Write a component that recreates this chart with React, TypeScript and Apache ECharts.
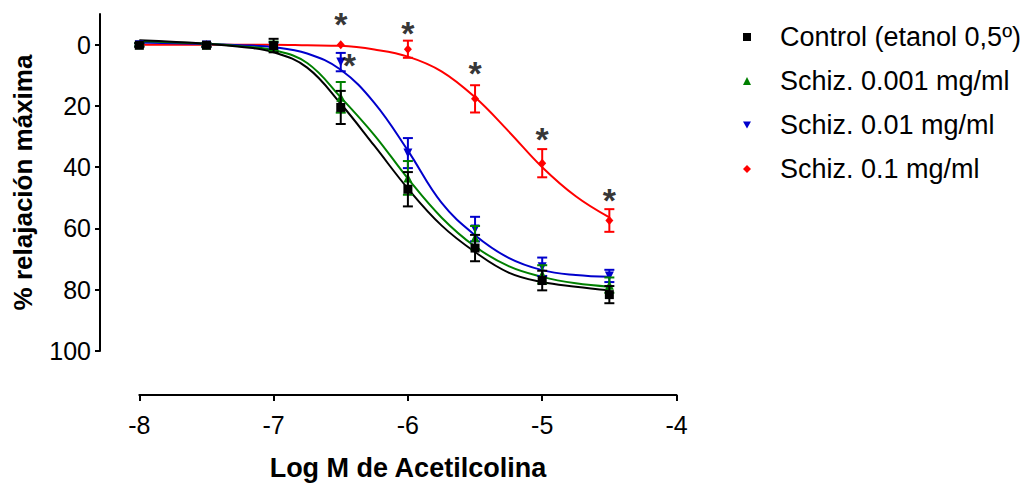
import React, { useEffect, useRef } from "react";
import * as echarts from "echarts";

// Log M acetylcholine doses
const doses = [-8, -7.5, -7, -6.5, -6, -5.5, -5, -4.5];

// Means (% relajación máxima) and SEM
const controlMean = [0.2, 0.2, 0.3, 20.5, 47.2, 66.4, 77.0, 81.6];
const controlSem = [0.6, 0.6, 2.2, 5.4, 5.6, 4.3, 3.2, 2.8];
const schiz001Mean = [0.0, 0.1, 0.5, 17.2, 43.5, 63.0, 75.0, 78.5];
const schiz001Sem = [0.5, 0.5, 1.5, 5.0, 5.5, 3.8, 3.0, 2.5];
const schiz01Mean = [0.0, 0.1, 0.3, 5.7, 35.4, 60.2, 72.5, 75.5];
const schiz01Sem = [0.5, 0.5, 1.0, 3.0, 4.9, 4.0, 3.0, 2.0];
const schiz1Mean = [0.0, 0.0, 0.0, 0.0, 1.5, 17.7, 38.7, 57.4];
const schiz1Sem = [0.0, 0.0, 0.0, 0.0, 2.8, 4.45, 4.6, 3.7];

// Fitted curves
const curveX = [-8, -7.5, -7.25, -7, -6.75, -6.5, -6.25, -6, -5.75, -5.5, -5.25, -5, -4.75, -4.5];
const controlCurve = [-1.4, -0.3, 0.7, 2.5, 7.5, 19.3, 33, 47, 59, 67.7, 74.4, 77.5, 79, 80.2];
const schiz001Curve = [-1.2, -0.3, 0.5, 1.8, 6.0, 17.2, 29.5, 43.7, 56.4, 65.9, 72.3, 75.8, 77.9, 79.0];
const schiz01Curve = [-0.7, -0.2, 0.2, 0.8, 2.9, 8.2, 19, 34.6, 51.6, 62.2, 69.6, 73.6, 75.2, 75.8];
const schiz1Curve = [0, 0, 0, 0, 0.2, 0.4, 1.6, 3.9, 8.7, 17.2, 28.3, 40, 49.5, 56.4];

// Significance marks (asterisks) positions
const asteriskX = [-6.5, -6.435, -6, -5.5, -5, -4.5];
const asteriskY = [-7.7, 5.8, -4.7, 8.2, 29.9, 49.7];

const yTicks = [0, 20, 40, 60, 80, 100];

const seriesNames = [
  "Control (etanol 0,5º)",
  "Schiz. 0.001 mg/ml",
  "Schiz. 0.01 mg/ml",
  "Schiz. 0.1 mg/ml",
];

const FONT = "'Liberation Sans', Arial, sans-serif";
const DOWN_TRIANGLE = "path://M0,0L10,0L5,9Z";

export default function App() {
  const ref = useRef<HTMLDivElement>(null);
  useEffect(() => {
    if (!ref.current) return;
    document.body.style.margin = "0";
    const chart = echarts.init(ref.current, undefined, { renderer: "svg" });

    const groups = [
      { name: seriesNames[3], mean: schiz1Mean, sem: schiz1Sem, curve: schiz1Curve, color: "#ff0000", symbol: "diamond", size: [8, 9] },
      { name: seriesNames[2], mean: schiz01Mean, sem: schiz01Sem, curve: schiz01Curve, color: "#0000cc", symbol: DOWN_TRIANGLE, size: [9, 9] },
      { name: seriesNames[1], mean: schiz001Mean, sem: schiz001Sem, curve: schiz001Curve, color: "#008000", symbol: "triangle", size: [9, 9] },
      { name: seriesNames[0], mean: controlMean, sem: controlSem, curve: controlCurve, color: "#000000", symbol: "rect", size: [9, 9] },
    ];

    const series: any[] = [];
    groups.forEach((g) => {
      series.push({
        name: g.name + " fit",
        type: "line",
        data: curveX.map((x, i) => [x, g.curve[i]]),
        smooth: 0.4,
        showSymbol: false,
        symbol: "none",
        lineStyle: { color: g.color, width: 2 },
        silent: true,
        z: 2,
      });
    });
    groups.forEach((g, gi) => {
      const color = g.color;
      series.push({
        name: g.name + " err",
        type: "custom",
        data: doses.map((x, i) => [x, g.mean[i], g.sem[i]]),
        encode: { x: 0, y: 1 },
        z: 3 + gi * 2,
        renderItem: (params: any, api: any) => {
          const x = api.value(0);
          const m = api.value(1);
          const s = api.value(2);
          if (!s) return { type: "group", children: [] };
          const top = api.coord([x, m - s]);
          const bot = api.coord([x, m + s]);
          const hw = 5;
          const st = { stroke: color, lineWidth: 2 };
          return {
            type: "group",
            children: [
              { type: "line", shape: { x1: top[0], y1: top[1], x2: bot[0], y2: bot[1] }, style: st },
              { type: "line", shape: { x1: top[0] - hw, y1: top[1], x2: top[0] + hw, y2: top[1] }, style: st },
              { type: "line", shape: { x1: bot[0] - hw, y1: bot[1], x2: bot[0] + hw, y2: bot[1] }, style: st },
            ],
          };
        },
      });
      series.push({
        name: g.name,
        type: "scatter",
        data: doses.map((x, i) => [x, g.mean[i]]),
        symbol: g.symbol,
        symbolSize: g.size,
        itemStyle: { color, opacity: 1 },
        z: 4 + gi * 2,
      });
    });
    series.push({
      name: "asterisks",
      type: "scatter",
      data: asteriskX.map((x, i) => [x, asteriskY[i]]),
      symbolSize: 0,
      silent: true,
      z: 20,
      itemStyle: { color: "#000" },
      label: {
        show: true,
        formatter: "*",
        position: "inside",
        color: "#000",
        textBorderWidth: 0,
        textBorderColor: "transparent",
        fontSize: 34,
        fontWeight: "bold",
        fontFamily: FONT,
        offset: [0, 3],
      },
    });

    chart.setOption({
      animation: false,
      backgroundColor: "#ffffff",
      textStyle: { fontFamily: FONT },
      grid: { left: 139.3, top: 14, width: 537.2, height: 345 },
      legend: {
        orient: "vertical",
        left: 738,
        top: 18,
        data: [seriesNames[0], seriesNames[1], seriesNames[2], seriesNames[3]],
        itemWidth: 8,
        itemHeight: 8,
        itemGap: 16,
        textStyle: {
          fontSize: 27,
          lineHeight: 28,
          color: "#000",
          fontFamily: FONT,
          padding: [0, 0, 0, 24],
        },
      },
      xAxis: {
        type: "value",
        min: -8,
        max: -4,
        interval: 1,
        position: "bottom",
        offset: 44,
        name: "Log M de Acetilcolina",
        nameLocation: "middle",
        nameGap: 59,
        nameTextStyle: { fontSize: 27, fontWeight: "bold", color: "#000", fontFamily: FONT },
        axisLine: { show: true, onZero: false, lineStyle: { color: "#000", width: 2 } },
        axisTick: { show: true, inside: false, length: 6, lineStyle: { color: "#000", width: 2 } },
        axisLabel: { fontSize: 25, color: "#000", margin: 17, fontFamily: FONT },
        splitLine: { show: false },
      },
      yAxis: {
        type: "value",
        inverse: true,
        min: -10,
        max: 100,
        interval: 10,
        position: "left",
        offset: 39.3,
        name: "% relajación máxima",
        nameLocation: "middle",
        nameGap: 64,
        nameTextStyle: { fontSize: 26, fontWeight: "bold", color: "#000", fontFamily: FONT },
        axisLine: { show: true, onZero: false, lineStyle: { color: "#000", width: 2 } },
        axisTick: { show: true, length: 5, customValues: yTicks, lineStyle: { color: "#000", width: 2 } },
        axisLabel: { fontSize: 25, color: "#000", margin: 9, customValues: yTicks, fontFamily: FONT },
        splitLine: { show: false },
      },
      series,
    });
    return () => chart.dispose();
  }, []);
  return <div ref={ref} style={{ width: 1028, height: 486 }} />;
}
